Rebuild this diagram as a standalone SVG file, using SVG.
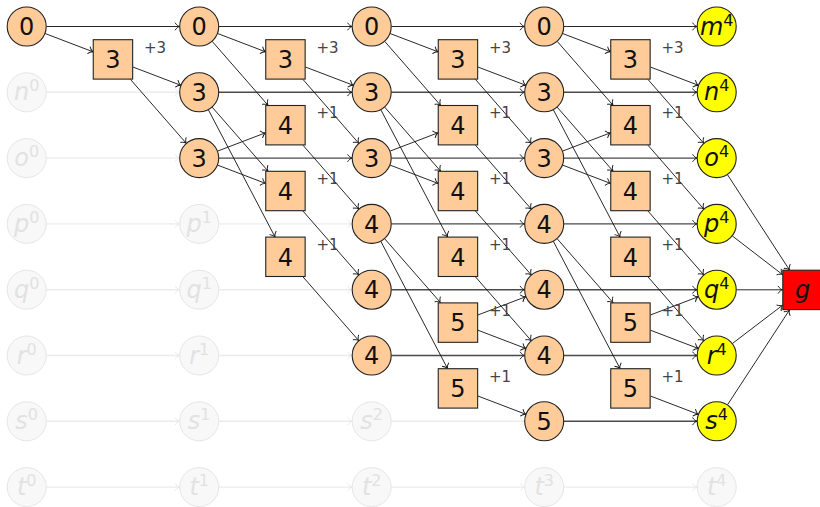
<svg xmlns="http://www.w3.org/2000/svg" width="820" height="507" viewBox="0 0 820 507">
<style>
.c{fill:#ffcc99;stroke:#222;stroke-width:1.1}
.s{fill:#ffcc99;stroke:#222;stroke-width:1.1}
.y{fill:#ffff00;stroke:#222;stroke-width:1.1}
.f{fill:#f8f8f8;stroke:#e6e6e6;stroke-width:1}
.g{fill:#ff0000;stroke:#222;stroke-width:1.1}
text{font-family:"DejaVu Sans","Liberation Sans",sans-serif;text-anchor:middle}
.n{font-size:24px;fill:#111}
.v{font-size:24px;font-style:italic;fill:#111}
.fv{font-size:24px;font-style:italic;fill:#e2e2e2}
.sup{font-size:16px;font-style:normal}
.lbl{font-size:15px;fill:#444}
.e line{stroke:#111;stroke-width:0.9;fill:none;marker-end:url(#arr)}
.eh line{stroke:#4a4a4a;stroke-width:1.4;fill:none;marker-end:url(#arr)}
.ef line{stroke:#ececec;stroke-width:1.4;fill:none;marker-end:url(#farr)}
</style>
<defs>
<marker id="arr" viewBox="-6 -5 7 10" refX="0" refY="0" markerWidth="7" markerHeight="10" markerUnits="userSpaceOnUse" orient="auto">
<path d="M-4.5,-3.8 C-3,-1.4 -1.2,-0.4 0,0 C-1.2,0.4 -3,1.4 -4.5,3.8" fill="none" stroke="#111" stroke-width="0.9"/>
</marker>
<marker id="farr" viewBox="-6 -5 7 10" refX="0" refY="0" markerWidth="7" markerHeight="10" markerUnits="userSpaceOnUse" orient="auto">
<path d="M-4.5,-3.8 C-3,-1.4 -1.2,-0.4 0,0 C-1.2,0.4 -3,1.4 -4.5,3.8" fill="none" stroke="#e6e6e6" stroke-width="0.9"/>
</marker>
</defs>

<g id="connectors">
<g id="faded-edges" class="ef">
<line x1="46.4" y1="92.3" x2="179.5" y2="92.3"/>
<line x1="46.4" y1="158.1" x2="179.5" y2="158.1"/>
<line x1="46.4" y1="223.9" x2="179.5" y2="223.9"/>
<line x1="46.4" y1="289.7" x2="179.5" y2="289.7"/>
<line x1="46.4" y1="355.5" x2="179.5" y2="355.5"/>
<line x1="46.4" y1="421.3" x2="179.5" y2="421.3"/>
<line x1="46.4" y1="487.1" x2="179.5" y2="487.1"/>
<line x1="218.9" y1="223.9" x2="352" y2="223.9"/>
<line x1="218.9" y1="289.7" x2="352" y2="289.7"/>
<line x1="218.9" y1="355.5" x2="352" y2="355.5"/>
<line x1="218.9" y1="421.3" x2="352" y2="421.3"/>
<line x1="218.9" y1="487.1" x2="352" y2="487.1"/>
<line x1="391.4" y1="421.3" x2="524.5" y2="421.3"/>
<line x1="391.4" y1="487.1" x2="524.5" y2="487.1"/>
<line x1="563.9" y1="487.1" x2="697" y2="487.1"/>
</g>
<g id="top-edges" class="e">
<line x1="46.4" y1="26.5" x2="179.5" y2="26.5"/>
<line x1="218.9" y1="26.5" x2="352" y2="26.5"/>
<line x1="391.4" y1="26.5" x2="524.5" y2="26.5"/>
<line x1="563.9" y1="26.5" x2="697" y2="26.5"/>
</g>
<g id="row-edges" class="eh">
<line x1="218.9" y1="92.3" x2="352" y2="92.3"/>
<line x1="218.9" y1="158.1" x2="352" y2="158.1"/>
<line x1="391.4" y1="92.3" x2="524.5" y2="92.3"/>
<line x1="391.4" y1="158.1" x2="524.5" y2="158.1"/>
<line x1="391.4" y1="223.9" x2="524.5" y2="223.9"/>
<line x1="391.4" y1="289.7" x2="524.5" y2="289.7"/>
<line x1="391.4" y1="355.5" x2="524.5" y2="355.5"/>
<line x1="563.9" y1="92.3" x2="697" y2="92.3"/>
<line x1="563.9" y1="158.1" x2="697" y2="158.1"/>
<line x1="563.9" y1="223.9" x2="697" y2="223.9"/>
<line x1="563.9" y1="289.7" x2="697" y2="289.7"/>
<line x1="563.9" y1="355.5" x2="697" y2="355.5"/>
<line x1="563.9" y1="421.3" x2="697" y2="421.3"/>
</g>
<g id="col0-edges" class="e" transform="translate(26.7,0)">
<line x1="18.41" y1="33.52" x2="66.25" y2="51.77"/>
<line x1="106.25" y1="67.03" x2="154.09" y2="85.28"/>
<line x1="103.73" y1="79.4" x2="159.54" y2="143.27"/>
</g>
<g id="col1-edges" class="e" transform="translate(199.2,0)">
<line x1="18.41" y1="33.52" x2="66.25" y2="51.77"/>
<line x1="12.96" y1="41.33" x2="68.77" y2="105.2"/>
<line x1="12.96" y1="107.13" x2="68.77" y2="171"/>
<line x1="9.15" y1="109.75" x2="75.76" y2="236.8"/>
<line x1="18.41" y1="151.08" x2="66.25" y2="132.83"/>
<line x1="18.41" y1="165.12" x2="66.25" y2="183.37"/>
<line x1="106.25" y1="67.03" x2="154.09" y2="85.28"/>
<line x1="103.73" y1="79.4" x2="159.54" y2="143.27"/>
<line x1="103.73" y1="145.2" x2="159.54" y2="209.07"/>
<line x1="103.73" y1="211" x2="159.54" y2="274.87"/>
<line x1="103.73" y1="276.8" x2="159.54" y2="340.67"/>
</g>
<g id="col2-edges" class="e" transform="translate(371.7,0)">
<line x1="18.41" y1="33.52" x2="66.25" y2="51.77"/>
<line x1="12.96" y1="41.33" x2="68.77" y2="105.2"/>
<line x1="12.96" y1="107.13" x2="68.77" y2="171"/>
<line x1="9.15" y1="109.75" x2="75.76" y2="236.8"/>
<line x1="18.41" y1="151.08" x2="66.25" y2="132.83"/>
<line x1="18.41" y1="165.12" x2="66.25" y2="183.37"/>
<line x1="12.96" y1="238.73" x2="68.77" y2="302.6"/>
<line x1="9.15" y1="241.35" x2="75.76" y2="368.4"/>
<line x1="106.25" y1="67.03" x2="154.09" y2="85.28"/>
<line x1="103.73" y1="79.4" x2="159.54" y2="143.27"/>
<line x1="103.73" y1="145.2" x2="159.54" y2="209.07"/>
<line x1="103.73" y1="211" x2="159.54" y2="274.87"/>
<line x1="103.73" y1="276.8" x2="159.54" y2="340.67"/>
<line x1="106.25" y1="314.97" x2="154.09" y2="296.72"/>
<line x1="106.25" y1="330.23" x2="154.09" y2="348.48"/>
<line x1="106.25" y1="396.03" x2="154.09" y2="414.28"/>
</g>
<g id="col3-edges" class="e" transform="translate(544.2,0)">
<line x1="18.41" y1="33.52" x2="66.25" y2="51.77"/>
<line x1="12.96" y1="41.33" x2="68.77" y2="105.2"/>
<line x1="12.96" y1="107.13" x2="68.77" y2="171"/>
<line x1="9.15" y1="109.75" x2="75.76" y2="236.8"/>
<line x1="18.41" y1="151.08" x2="66.25" y2="132.83"/>
<line x1="18.41" y1="165.12" x2="66.25" y2="183.37"/>
<line x1="12.96" y1="238.73" x2="68.77" y2="302.6"/>
<line x1="9.15" y1="241.35" x2="75.76" y2="368.4"/>
<line x1="106.25" y1="67.03" x2="154.09" y2="85.28"/>
<line x1="103.73" y1="79.4" x2="159.54" y2="143.27"/>
<line x1="103.73" y1="145.2" x2="159.54" y2="209.07"/>
<line x1="103.73" y1="211" x2="159.54" y2="274.87"/>
<line x1="103.73" y1="276.8" x2="159.54" y2="340.67"/>
<line x1="106.25" y1="314.97" x2="154.09" y2="296.72"/>
<line x1="106.25" y1="330.23" x2="154.09" y2="348.48"/>
<line x1="106.25" y1="396.03" x2="154.09" y2="414.28"/>
</g>
<g id="goal-edges" class="e">
<line x1="727.44" y1="174.61" x2="789.49" y2="270"/>
<line x1="732.31" y1="235.92" x2="782.5" y2="274.59"/>
<line x1="736.4" y1="289.8" x2="782.5" y2="289.8"/>
<line x1="732.36" y1="343.55" x2="782.5" y2="305.27"/>
<line x1="727.48" y1="404.81" x2="789.43" y2="310"/>
</g>
</g>

<g id="faded-nodes">
<g id="n0"><circle class="f" cx="26.7" cy="92.3" r="19.5"/><text class="fv" x="26.7" y="100.3">n<tspan class="sup" dy="-9">0</tspan></text></g>
<g id="o0"><circle class="f" cx="26.7" cy="158.1" r="19.5"/><text class="fv" x="26.7" y="166.1">o<tspan class="sup" dy="-9">0</tspan></text></g>
<g id="p0"><circle class="f" cx="26.7" cy="223.9" r="19.5"/><text class="fv" x="26.7" y="231.9">p<tspan class="sup" dy="-9">0</tspan></text></g>
<g id="q0"><circle class="f" cx="26.7" cy="289.7" r="19.5"/><text class="fv" x="26.7" y="297.7">q<tspan class="sup" dy="-9">0</tspan></text></g>
<g id="r0"><circle class="f" cx="26.7" cy="355.5" r="19.5"/><text class="fv" x="26.7" y="363.5">r<tspan class="sup" dy="-9">0</tspan></text></g>
<g id="s0"><circle class="f" cx="26.7" cy="421.3" r="19.5"/><text class="fv" x="26.7" y="429.3">s<tspan class="sup" dy="-9">0</tspan></text></g>
<g id="t0"><circle class="f" cx="26.7" cy="487.1" r="19.5"/><text class="fv" x="26.7" y="495.1">t<tspan class="sup" dy="-9">0</tspan></text></g>
<g id="p1"><circle class="f" cx="199.2" cy="223.9" r="19.5"/><text class="fv" x="199.2" y="231.9">p<tspan class="sup" dy="-9">1</tspan></text></g>
<g id="q1"><circle class="f" cx="199.2" cy="289.7" r="19.5"/><text class="fv" x="199.2" y="297.7">q<tspan class="sup" dy="-9">1</tspan></text></g>
<g id="r1"><circle class="f" cx="199.2" cy="355.5" r="19.5"/><text class="fv" x="199.2" y="363.5">r<tspan class="sup" dy="-9">1</tspan></text></g>
<g id="s1"><circle class="f" cx="199.2" cy="421.3" r="19.5"/><text class="fv" x="199.2" y="429.3">s<tspan class="sup" dy="-9">1</tspan></text></g>
<g id="t1"><circle class="f" cx="199.2" cy="487.1" r="19.5"/><text class="fv" x="199.2" y="495.1">t<tspan class="sup" dy="-9">1</tspan></text></g>
<g id="s2"><circle class="f" cx="371.7" cy="421.3" r="19.5"/><text class="fv" x="371.7" y="429.3">s<tspan class="sup" dy="-9">2</tspan></text></g>
<g id="t2"><circle class="f" cx="371.7" cy="487.1" r="19.5"/><text class="fv" x="371.7" y="495.1">t<tspan class="sup" dy="-9">2</tspan></text></g>
<g id="t3"><circle class="f" cx="544.2" cy="487.1" r="19.5"/><text class="fv" x="544.2" y="495.1">t<tspan class="sup" dy="-9">3</tspan></text></g>
<g id="t4"><circle class="f" cx="716.7" cy="487.1" r="19.5"/><text class="fv" x="716.7" y="495.1">t<tspan class="sup" dy="-9">4</tspan></text></g>
</g>

<g id="circle-nodes">
<g id="c0-0"><circle class="c" cx="26.7" cy="26.5" r="19.5"/><text class="n" x="26.7" y="35.2">0</text></g>
<g id="c1-0"><circle class="c" cx="199.2" cy="26.5" r="19.5"/><text class="n" x="199.2" y="35.2">0</text></g>
<g id="c1-1"><circle class="c" cx="199.2" cy="92.3" r="19.5"/><text class="n" x="199.2" y="101">3</text></g>
<g id="c1-2"><circle class="c" cx="199.2" cy="158.1" r="19.5"/><text class="n" x="199.2" y="166.8">3</text></g>
<g id="c2-0"><circle class="c" cx="371.7" cy="26.5" r="19.5"/><text class="n" x="371.7" y="35.2">0</text></g>
<g id="c2-1"><circle class="c" cx="371.7" cy="92.3" r="19.5"/><text class="n" x="371.7" y="101">3</text></g>
<g id="c2-2"><circle class="c" cx="371.7" cy="158.1" r="19.5"/><text class="n" x="371.7" y="166.8">3</text></g>
<g id="c2-3"><circle class="c" cx="371.7" cy="223.9" r="19.5"/><text class="n" x="371.7" y="232.6">4</text></g>
<g id="c2-4"><circle class="c" cx="371.7" cy="289.7" r="19.5"/><text class="n" x="371.7" y="298.4">4</text></g>
<g id="c2-5"><circle class="c" cx="371.7" cy="355.5" r="19.5"/><text class="n" x="371.7" y="364.2">4</text></g>
<g id="c3-0"><circle class="c" cx="544.2" cy="26.5" r="19.5"/><text class="n" x="544.2" y="35.2">0</text></g>
<g id="c3-1"><circle class="c" cx="544.2" cy="92.3" r="19.5"/><text class="n" x="544.2" y="101">3</text></g>
<g id="c3-2"><circle class="c" cx="544.2" cy="158.1" r="19.5"/><text class="n" x="544.2" y="166.8">3</text></g>
<g id="c3-3"><circle class="c" cx="544.2" cy="223.9" r="19.5"/><text class="n" x="544.2" y="232.6">4</text></g>
<g id="c3-4"><circle class="c" cx="544.2" cy="289.7" r="19.5"/><text class="n" x="544.2" y="298.4">4</text></g>
<g id="c3-5"><circle class="c" cx="544.2" cy="355.5" r="19.5"/><text class="n" x="544.2" y="364.2">4</text></g>
<g id="c3-6"><circle class="c" cx="544.2" cy="421.3" r="19.5"/><text class="n" x="544.2" y="430">5</text></g>
</g>

<g id="square-nodes">
<g id="s0-0"><rect class="s" x="93.25" y="39.7" width="39.4" height="39.4"/><text class="n" x="112.95" y="68.1">3</text><text class="lbl" x="154.95" y="52.6">+3</text></g>
<g id="s1-0"><rect class="s" x="265.75" y="39.7" width="39.4" height="39.4"/><text class="n" x="285.45" y="68.1">3</text><text class="lbl" x="327.45" y="52.6">+3</text></g>
<g id="s1-1"><rect class="s" x="265.75" y="105.5" width="39.4" height="39.4"/><text class="n" x="285.45" y="133.9">4</text><text class="lbl" x="327.45" y="118.4">+1</text></g>
<g id="s1-2"><rect class="s" x="265.75" y="171.3" width="39.4" height="39.4"/><text class="n" x="285.45" y="199.7">4</text><text class="lbl" x="327.45" y="184.2">+1</text></g>
<g id="s1-3"><rect class="s" x="265.75" y="237.1" width="39.4" height="39.4"/><text class="n" x="285.45" y="265.5">4</text><text class="lbl" x="327.45" y="250">+1</text></g>
<g id="s2-0"><rect class="s" x="438.25" y="39.7" width="39.4" height="39.4"/><text class="n" x="457.95" y="68.1">3</text><text class="lbl" x="499.95" y="52.6">+3</text></g>
<g id="s2-1"><rect class="s" x="438.25" y="105.5" width="39.4" height="39.4"/><text class="n" x="457.95" y="133.9">4</text><text class="lbl" x="499.95" y="118.4">+1</text></g>
<g id="s2-2"><rect class="s" x="438.25" y="171.3" width="39.4" height="39.4"/><text class="n" x="457.95" y="199.7">4</text><text class="lbl" x="499.95" y="184.2">+1</text></g>
<g id="s2-3"><rect class="s" x="438.25" y="237.1" width="39.4" height="39.4"/><text class="n" x="457.95" y="265.5">4</text><text class="lbl" x="499.95" y="250">+1</text></g>
<g id="s2-4"><rect class="s" x="438.25" y="302.9" width="39.4" height="39.4"/><text class="n" x="457.95" y="331.3">5</text><text class="lbl" x="499.95" y="315.8">+1</text></g>
<g id="s2-5"><rect class="s" x="438.25" y="368.7" width="39.4" height="39.4"/><text class="n" x="457.95" y="397.1">5</text><text class="lbl" x="499.95" y="381.6">+1</text></g>
<g id="s3-0"><rect class="s" x="610.75" y="39.7" width="39.4" height="39.4"/><text class="n" x="630.45" y="68.1">3</text><text class="lbl" x="672.45" y="52.6">+3</text></g>
<g id="s3-1"><rect class="s" x="610.75" y="105.5" width="39.4" height="39.4"/><text class="n" x="630.45" y="133.9">4</text><text class="lbl" x="672.45" y="118.4">+1</text></g>
<g id="s3-2"><rect class="s" x="610.75" y="171.3" width="39.4" height="39.4"/><text class="n" x="630.45" y="199.7">4</text><text class="lbl" x="672.45" y="184.2">+1</text></g>
<g id="s3-3"><rect class="s" x="610.75" y="237.1" width="39.4" height="39.4"/><text class="n" x="630.45" y="265.5">4</text><text class="lbl" x="672.45" y="250">+1</text></g>
<g id="s3-4"><rect class="s" x="610.75" y="302.9" width="39.4" height="39.4"/><text class="n" x="630.45" y="331.3">5</text><text class="lbl" x="672.45" y="315.8">+1</text></g>
<g id="s3-5"><rect class="s" x="610.75" y="368.7" width="39.4" height="39.4"/><text class="n" x="630.45" y="397.1">5</text><text class="lbl" x="672.45" y="381.6">+1</text></g>
</g>

<g id="goal-layer">
<g id="m4"><circle class="y" cx="716.7" cy="26.5" r="19.5"/><text class="v" x="716.7" y="34.5">m<tspan class="sup" dy="-9">4</tspan></text></g>
<g id="n4"><circle class="y" cx="716.7" cy="92.3" r="19.5"/><text class="v" x="716.7" y="100.3">n<tspan class="sup" dy="-9">4</tspan></text></g>
<g id="o4"><circle class="y" cx="716.7" cy="158.1" r="19.5"/><text class="v" x="716.7" y="166.1">o<tspan class="sup" dy="-9">4</tspan></text></g>
<g id="p4"><circle class="y" cx="716.7" cy="223.9" r="19.5"/><text class="v" x="716.7" y="231.9">p<tspan class="sup" dy="-9">4</tspan></text></g>
<g id="q4"><circle class="y" cx="716.7" cy="289.7" r="19.5"/><text class="v" x="716.7" y="297.7">q<tspan class="sup" dy="-9">4</tspan></text></g>
<g id="r4"><circle class="y" cx="716.7" cy="355.5" r="19.5"/><text class="v" x="716.7" y="363.5">r<tspan class="sup" dy="-9">4</tspan></text></g>
<g id="s4"><circle class="y" cx="716.7" cy="421.3" r="19.5"/><text class="v" x="716.7" y="429.3">s<tspan class="sup" dy="-9">4</tspan></text></g>
<g id="g"><rect class="g" x="782.8" y="270.2" width="39.4" height="39.4"/><text class="v" x="802.5" y="297.5">g</text></g>
</g>
</svg>
